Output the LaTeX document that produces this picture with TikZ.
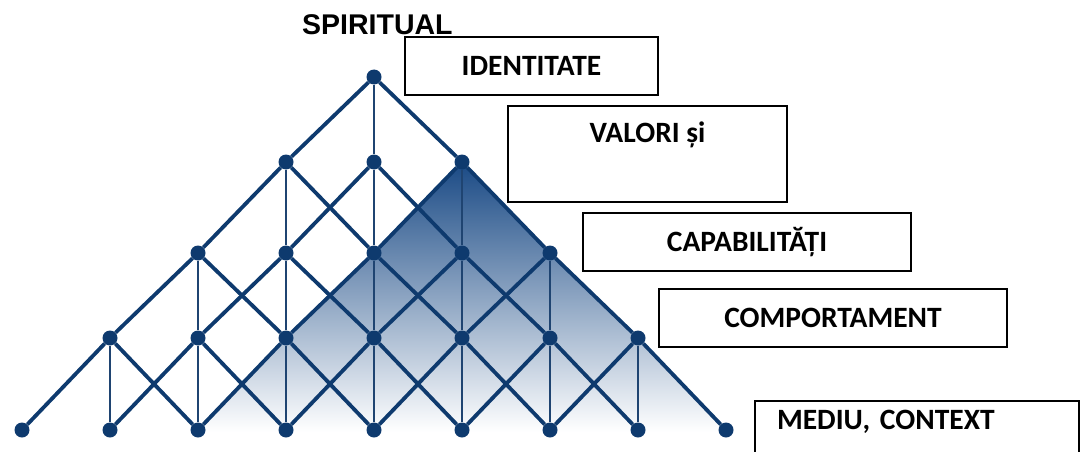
\documentclass[tikz,border=0pt]{standalone}
\usepackage{fontspec}
\setmainfont{Carlito}
\newfontfamily\arialfont{Liberation Sans}
\definecolor{pyrblue}{HTML}{0E3A6E}
\definecolor{pyrshade}{HTML}{1A4A85}
\definecolor{pyrmid}{RGB}{110,138,178}

\begin{document}
\begin{tikzpicture}[x=1pt,y=-1pt,
        dot/.style={circle,fill=pyrblue,inner sep=0pt,minimum size=15pt},
        rung/.style={pyrblue,line width=3.8pt},
        post/.style={pyrblue!85!gray,line width=1.8pt},
        level/.style={draw=black,line width=1.7pt,font=\bfseries\fontsize{29.5}{34}\selectfont,text height=19pt,text depth=0pt,inner sep=0pt}]
        \clip (0,0) rectangle (1081,452);
        % shaded part of the pyramid
        \shade[top color=pyrshade, middle color=pyrmid, bottom color=white] (462,162) -- (194,432) -- (730,432) -- cycle;
        % dots, row by row
        \foreach \r/\y in {1/77,2/162,3/253,4/338,5/430}{
            \pgfmathtruncatemacro{\lo}{5-\r}
            \pgfmathtruncatemacro{\hi}{3+\r}
            \foreach \c in {\lo,...,\hi}
                \node[dot] (d\r-\c) at ({22+88*\c},\y) {};
        }
        % lines between rows
        \foreach \r in {1,...,4}{
            \pgfmathtruncatemacro{\nr}{\r+1}
            \pgfmathtruncatemacro{\lo}{5-\r}
            \pgfmathtruncatemacro{\hi}{3+\r}
            \foreach \c in {\lo,...,\hi}{
                \pgfmathtruncatemacro{\cl}{\c-1}
                \pgfmathtruncatemacro{\cr}{\c+1}
                \draw[post] (d\r-\c) -- (d\nr-\c);
                \draw[rung] (d\r-\c) -- (d\nr-\cl);
                \draw[rung] (d\r-\c) -- (d\nr-\cr);
            }
        }
        % labels
        \node[anchor=base west,inner sep=0pt,font=\arialfont\bfseries\fontsize{28.5}{32}\selectfont] (spiritual) at (302,35) {SPIRITUAL};
        \node[level,minimum width=253pt,minimum height=58pt] (identitate) at (531.5,66) {IDENTITATE};
        \node[level,minimum width=279pt,minimum height=96pt,text depth=43pt] (valori) at (647.5,154) {VALORI și};
        \node[level,minimum width=328pt,minimum height=58pt] (capabilitati) at (747,242) {CAPABILITĂȚI};
        \node[level,minimum width=348pt,minimum height=58pt] (comportament) at (833,318) {COMPORTAMENT};
        \node[level,minimum width=324pt,minimum height=69pt,text depth=32pt,text width=280pt,align=left] (mediu) at (917,435.5) {MEDIU, CONTEXT};
    \end{tikzpicture}
\end{document}
